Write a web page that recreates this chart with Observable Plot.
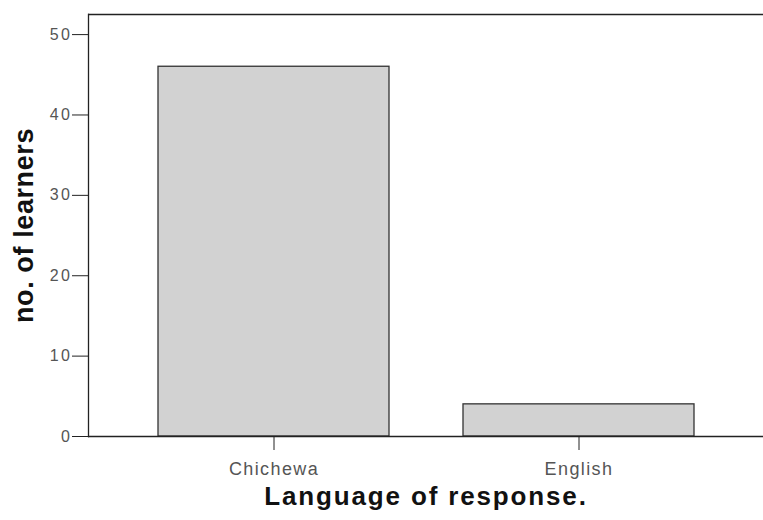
<!DOCTYPE html>
<html>
<head>
<meta charset="utf-8">
<script src="https://cdn.jsdelivr.net/npm/d3@7"></script>
<script src="https://cdn.jsdelivr.net/npm/@observablehq/plot@0.6"></script>
<style>
  html, body { margin: 0; padding: 0; background: #fff; }
  svg { font-family: "Liberation Sans", Arial, sans-serif; }
</style>
</head>
<body>
<div id="chart"></div>
<script>
const categories = ["Chichewa", "English"];
const learners = [46, 4];
const yTicks = [0, 10, 20, 30, 40, 50];
const yLabel = "no. of learners";
const xLabel = "Language of response.";

const data = categories.map((c, i) => ({language: c, count: learners[i]}));

const chart = Plot.plot({
  width: 763,
  height: 520,
  marginLeft: 88,
  marginRight: 0,
  marginTop: 14,
  marginBottom: 84,
  style: {fontFamily: "'Liberation Sans', Arial, sans-serif", background: "#fff"},
  x: {domain: categories, paddingInner: 0.243, paddingOuter: 0.228},
  y: {domain: [0, 52.5]},
  marks: [
    Plot.barY(data, {x: "language", y: "count", fill: "#d2d2d2", stroke: "#333", strokeWidth: 1.3}),
    Plot.ruleY([0], {stroke: "#222", strokeWidth: 1.3}),
    Plot.ruleY([52.5], {stroke: "#222", strokeWidth: 1.3}),
    Plot.frame({anchor: "left", stroke: "#222", strokeWidth: 1.3}),
    Plot.axisY({ticks: yTicks, tickSize: 16, tickPadding: 0, fontSize: 16, color: "#555", label: null, stroke: "#222"}),
    Plot.axisX({tickSize: 14, tickPadding: 12, fontSize: 18, color: "#555", label: null, stroke: "#222"}),
    Plot.text([yLabel], {frameAnchor: "left", textAnchor: "middle", rotate: -90, dx: -64, fontSize: 27, fontWeight: "bold", fill: "#111"}),
    Plot.text([xLabel], {frameAnchor: "bottom", textAnchor: "middle", dx: 0, dy: 68, fontSize: 26, fontWeight: "bold", fill: "#111"})
  ]
});
document.getElementById("chart").appendChild(chart);

const svg = d3.select(chart);
svg.selectAll('g[aria-label="y-axis tick label"]').attr("letter-spacing", "2.5px");
svg.selectAll('g[aria-label="x-axis tick label"]').attr("letter-spacing", "1.4px");
svg.selectAll("text").filter(function () { return this.textContent === yLabel; }).attr("letter-spacing", "0.6px");
svg.selectAll("text").filter(function () { return this.textContent === xLabel; }).attr("letter-spacing", "1.85px");
</script>
</body>
</html>
